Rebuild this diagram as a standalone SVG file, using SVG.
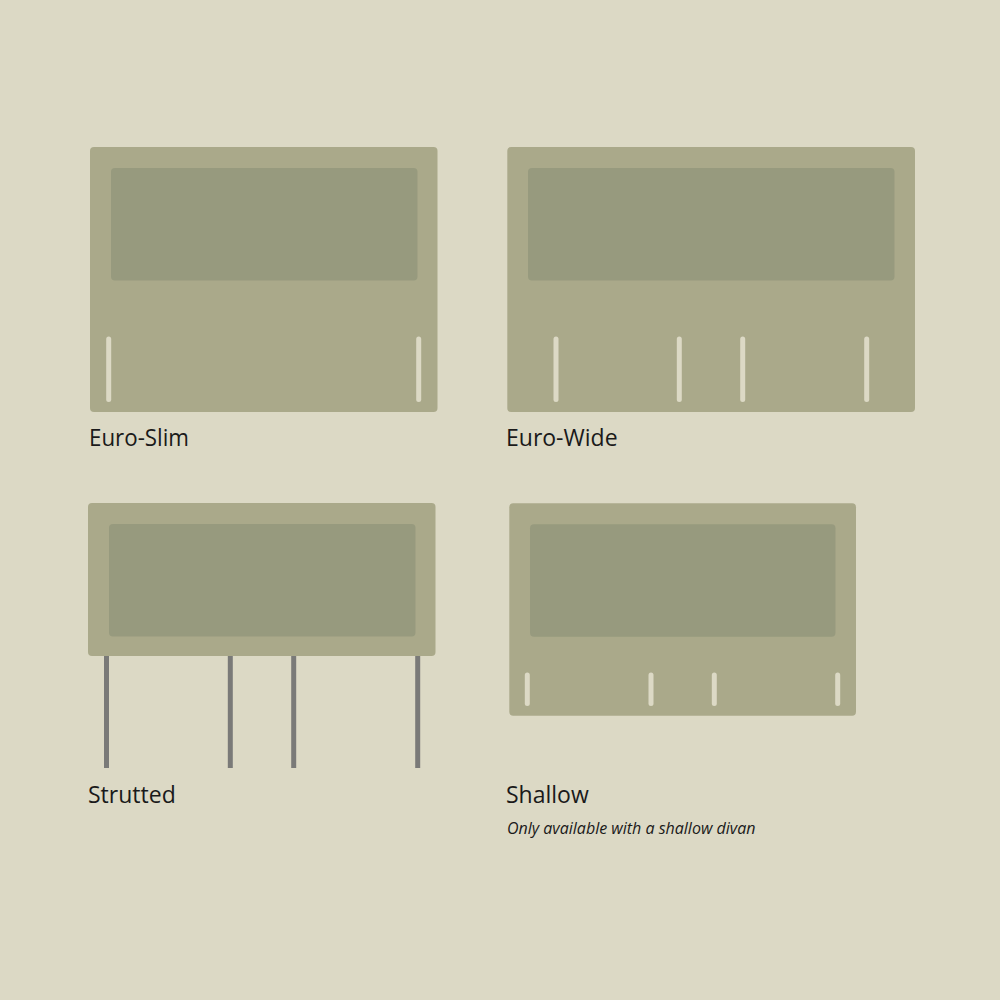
<svg xmlns="http://www.w3.org/2000/svg" width="1000" height="1000" viewBox="0 0 1000 1000">
<style>
.bg{fill:#dcd9c5}
.panel{fill:#aaa98a}
.inner{fill:#979a7e}
.slat{stroke:#dcd9c5;stroke-width:5;stroke-linecap:round}
.strut{stroke:#7a7a78;stroke-width:5}
.label{font-family:"Open Sans","Noto Sans","DejaVu Sans",sans-serif;font-size:23px;fill:#1a1a1a}
.note{font-family:"Open Sans","Noto Sans","DejaVu Sans",sans-serif;font-size:16px;font-style:italic;fill:#1a1a1a}
</style>
<rect class="bg" x="0" y="0" width="1000" height="1000"/>
<g id="euro-slim">
<rect class="panel" x="90" y="147" width="347.5" height="265" rx="4"/>
<rect class="inner" x="111" y="168" width="306.5" height="112.5" rx="4"/>
<line class="slat" x1="108.7" y1="339" x2="108.7" y2="399.5"/>
<line class="slat" x1="418.7" y1="339" x2="418.7" y2="399.5"/>
<text class="label" x="89" y="446" textLength="100" lengthAdjust="spacingAndGlyphs">Euro-Slim</text>
</g>
<g id="euro-wide">
<rect class="panel" x="507.3" y="147" width="407.7" height="265" rx="4"/>
<rect class="inner" x="528" y="168" width="366.5" height="112.5" rx="4"/>
<line class="slat" x1="556" y1="339" x2="556" y2="399.5"/>
<line class="slat" x1="679.3" y1="339" x2="679.3" y2="399.5"/>
<line class="slat" x1="742.7" y1="339" x2="742.7" y2="399.5"/>
<line class="slat" x1="866.7" y1="339" x2="866.7" y2="399.5"/>
<text class="label" x="506" y="446">Euro-Wide</text>
</g>
<g id="strutted">
<line class="strut" x1="106.5" y1="655" x2="106.5" y2="768"/>
<line class="strut" x1="230.3" y1="655" x2="230.3" y2="768"/>
<line class="strut" x1="293.7" y1="655" x2="293.7" y2="768"/>
<line class="strut" x1="417.7" y1="655" x2="417.7" y2="768"/>
<rect class="panel" x="88" y="503" width="347.5" height="153" rx="4"/>
<rect class="inner" x="109" y="524" width="306.5" height="112.5" rx="4"/>
<text class="label" x="88" y="803">Strutted</text>
</g>
<g id="shallow">
<rect class="panel" x="509.3" y="503.3" width="346.7" height="212.4" rx="4"/>
<rect class="inner" x="530" y="524.3" width="305.5" height="112.4" rx="4"/>
<line class="slat" x1="527.3" y1="675" x2="527.3" y2="703.5"/>
<line class="slat" x1="651" y1="675" x2="651" y2="703.5"/>
<line class="slat" x1="714.3" y1="675" x2="714.3" y2="703.5"/>
<line class="slat" x1="837.7" y1="675" x2="837.7" y2="703.5"/>
<text class="label" x="506" y="802.5">Shallow</text>
<text class="note" x="507" y="834">Only available with a shallow divan</text>
</g>
</svg>
